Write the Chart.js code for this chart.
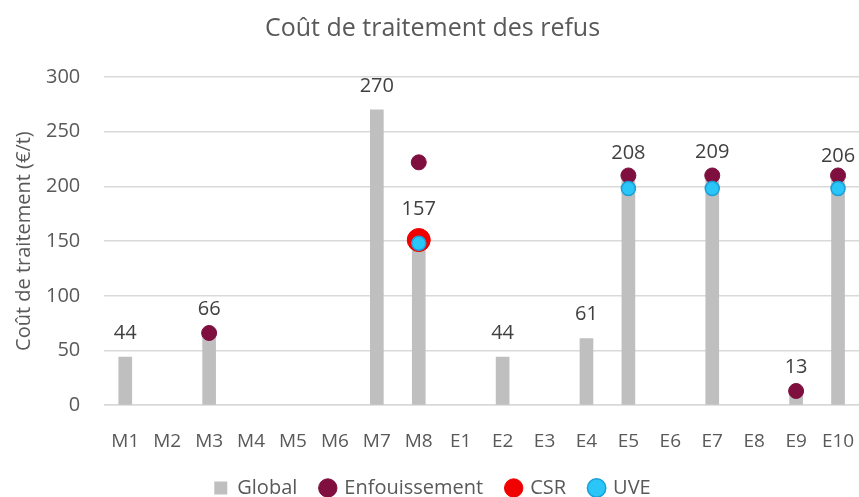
<!DOCTYPE html>
<html>
<head>
<meta charset="utf-8">
<script src="https://cdn.jsdelivr.net/npm/chart.js@4/dist/chart.umd.min.js"></script>
<style>
  body { margin: 0; background: #fff; }
  #wrap { width: 859px; height: 497px; }
</style>
</head>
<body>
<div id="wrap"><canvas id="chart"></canvas></div>
<script>
const categories = ["M1", "M2", "M3", "M4", "M5", "M6", "M7", "M8", "E1", "E2", "E3", "E4", "E5", "E6", "E7", "E8", "E9", "E10"];
const globalCost = [44, null, 66, null, null, null, 270, 157, null, 44, null, 61, 208, null, 209, null, 13, 206];
const enfouissement = [null, null, 66, null, null, null, null, 222, null, null, null, null, 210, null, 210, null, 13, 210];
const csr = [null, null, null, null, null, null, null, 151, null, null, null, null, null, null, null, null, null, null];
const uve = [null, null, null, null, null, null, null, 148, null, null, null, null, 198, null, 198, null, null, 198];
const yTicks = [0, 50, 100, 150, 200, 250, 300];

const FONT = "'Open Sans', sans-serif";

// labels above the grey bars
const barLabels = {
  id: "barLabels",
  afterDatasetsDraw(chart) {
    const ctx = chart.ctx;
    const meta = chart.getDatasetMeta(0);
    ctx.save();
    ctx.font = "20px " + FONT;
    ctx.fillStyle = "#404040";
    ctx.textAlign = "center";
    ctx.textBaseline = "middle";
    meta.data.forEach((bar, i) => {
      const v = globalCost[i];
      if (v === null) return;
      ctx.fillText(String(v), bar.x, bar.y - 24);
    });
    ctx.restore();
  }
};

new Chart(document.getElementById("chart"), {
  data: {
    labels: categories,
    datasets: [
      {
        type: "bar",
        label: "Global",
        data: globalCost,
        backgroundColor: "#BFBFBF",
        barThickness: 13,
        pointStyle: "rect",
        order: 4
      },
      {
        type: "line",
        label: "Enfouissement",
        data: enfouissement,
        showLine: false,
        pointRadius: 7.5,
        pointHoverRadius: 7.5,
        pointBackgroundColor: "#7E0F3F",
        pointBorderColor: "#7E0F3F",
        backgroundColor: "#7E0F3F",
        borderColor: "#7E0F3F",
        pointStyle: "circle",
        order: 3
      },
      {
        type: "line",
        label: "CSR",
        data: csr,
        showLine: false,
        pointRadius: 11.5,
        pointHoverRadius: 11.5,
        pointBackgroundColor: "#F00000",
        pointBorderColor: "#F00000",
        backgroundColor: "#F00000",
        borderColor: "#F00000",
        pointStyle: "circle",
        order: 2
      },
      {
        type: "line",
        label: "UVE",
        data: uve,
        showLine: false,
        pointRadius: 7,
        pointHoverRadius: 7,
        pointBorderWidth: 1.5,
        pointBackgroundColor: "#2AC6F7",
        pointBorderColor: "#1A9FD8",
        backgroundColor: "#2AC6F7",
        borderColor: "#1A9FD8",
        pointStyle: "circle",
        order: 1
      }
    ]
  },
  options: {
    responsive: true,
    maintainAspectRatio: false,
    animation: false,
    layout: { autoPadding: false, padding: { left: 6, right: 0, top: 10, bottom: -11 } },
    scales: {
      x: {
        grid: { display: false },
        border: { color: "#D9D9D9", width: 1.5 },
        ticks: { color: "#595959", font: { family: FONT, size: 19 }, maxRotation: 0, autoSkip: false, padding: 17 },
        afterFit(axis) {
          axis.paddingLeft = 0;
          axis.paddingRight = 0;
          axis.height -= 16;
        }
      },
      y: {
        min: 0,
        max: 300,
        afterBuildTicks(axis) { axis.ticks = yTicks.map(v => ({ value: v })); },
        grid: { color: "#D9D9D9", lineWidth: 1.5, drawTicks: false },
        border: { display: false },
        ticks: { color: "#595959", font: { family: FONT, size: 20 }, padding: 24 },
        title: {
          display: true,
          text: "Coût de traitement (€/t)",
          color: "#595959",
          font: { family: FONT, size: 20 },
          padding: { top: 6, bottom: -14 }
        }
      }
    },
    plugins: {
      title: {
        display: true,
        text: "Coût de traitement des refus",
        color: "#595959",
        font: { family: FONT, size: 25, weight: "normal" },
        padding: { top: 4, bottom: 33 }
      },
      legend: {
        position: "bottom",
        labels: {
          usePointStyle: true,
          boxWidth: 13,
          boxHeight: 13,
          padding: 24,
          color: "#595959",
          font: { family: FONT, size: 20 },
          sort: (a, b) => a.datasetIndex - b.datasetIndex
        }
      },
      tooltip: { enabled: false }
    }
  },
  plugins: [barLabels]
});
</script>
</body>
</html>
